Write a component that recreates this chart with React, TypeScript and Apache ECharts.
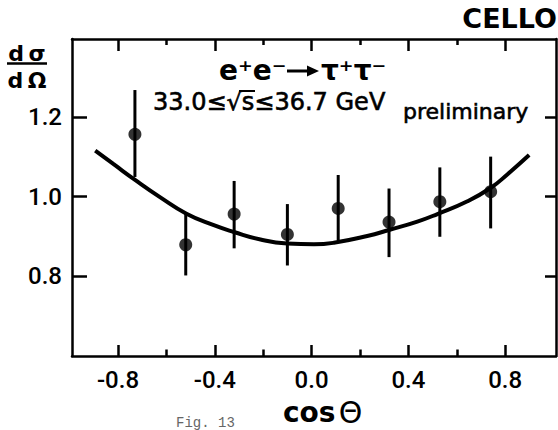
import React, { useEffect, useRef } from "react";
import * as echarts from "echarts";

// measured points
const cosTheta = [-0.73, -0.52, -0.32, -0.10, 0.11, 0.32, 0.53, 0.74];
const dSigma = [1.156, 0.879, 0.956, 0.905, 0.970, 0.936, 0.987, 1.012];
const errLow = [1.049, 0.802, 0.870, 0.827, 0.890, 0.848, 0.899, 0.920];
const errHigh = [1.267, 0.960, 1.039, 0.981, 1.054, 1.020, 1.073, 1.100];

// theoretical curve
const curveX = [-0.894, -0.818, -0.728, -0.625, -0.517, -0.404, -0.321, -0.211, -0.101, 0.01, 0.092, 0.23, 0.32, 0.437, 0.52, 0.644, 0.741, 0.81, 0.899];
const curveY = [1.115, 1.081, 1.041, 0.998, 0.957, 0.928, 0.911, 0.892, 0.882, 0.880, 0.884, 0.901, 0.916, 0.937, 0.956, 0.988, 1.022, 1.056, 1.104];

// ticks
const xMajorTicks = [-0.8, -0.4, 0.0, 0.4, 0.8];
const xMinorTicks = [-0.6, -0.2, 0.2, 0.6];
const yTicks = [0.8, 1.0, 1.2];

const X_MIN = -0.99;
const X_MAX = 1.01;
const Y_MIN = 0.6;
const Y_MAX = 1.395;

const FRAME = "#000";
const LBL_FONT = "Roboto";
const TXT_FONT = "DejaVu Sans";

function fmt(v: number) {
  const s = Math.abs(v).toFixed(1);
  return v < -1e-9 ? "-" + s : s;
}

function buildOption(): any {
  const lineStyle = { color: FRAME, width: 2.5 };
  const baseX = {
    type: "value",
    min: X_MIN,
    max: X_MAX,
    gridIndex: 0,
    splitLine: { show: false },
  };
  const baseY = {
    type: "value",
    min: Y_MIN,
    max: Y_MAX,
    gridIndex: 0,
    splitLine: { show: false },
  };
  return {
    animation: false,
    backgroundColor: "#fff",
    grid: { left: 72, top: 39, width: 484, height: 317, containLabel: false },
    xAxis: [
      {
        ...baseX,
        position: "bottom",
        axisLine: { show: true, onZero: false, lineStyle },
        axisTick: { show: true, inside: true, length: 11, customValues: xMajorTicks, lineStyle: { color: FRAME, width: 2.5 } },
        axisLabel: {
          show: true,
          customValues: xMajorTicks,
          formatter: (v: number) => fmt(v),
          fontFamily: LBL_FONT,
          fontWeight: 500,
          fontSize: 24,
          color: "#000",
          margin: 12,
        },
      },
      {
        ...baseX,
        position: "bottom",
        axisLine: { show: false, onZero: false },
        axisTick: { show: true, inside: true, length: 6.5, customValues: xMinorTicks, lineStyle: { color: FRAME, width: 2.5 } },
        axisLabel: { show: false },
      },
      {
        ...baseX,
        position: "top",
        axisLine: { show: true, onZero: false, lineStyle },
        axisTick: { show: true, inside: true, length: 12, customValues: xMajorTicks, lineStyle: { color: FRAME, width: 2.5 } },
        axisLabel: { show: false },
      },
      {
        ...baseX,
        position: "top",
        axisLine: { show: false, onZero: false },
        axisTick: { show: true, inside: true, length: 6, customValues: xMinorTicks, lineStyle: { color: FRAME, width: 2.5 } },
        axisLabel: { show: false },
      },
    ],
    yAxis: [
      {
        ...baseY,
        position: "left",
        axisLine: { show: true, onZero: false, lineStyle },
        axisTick: { show: true, inside: true, length: 15, customValues: yTicks, lineStyle: { color: FRAME, width: 2.5 } },
        axisLabel: {
          show: true,
          customValues: yTicks,
          formatter: (v: number) => fmt(v),
          fontFamily: LBL_FONT,
          fontWeight: 500,
          fontSize: 24,
          color: "#000",
          margin: 10,
        },
      },
      {
        ...baseY,
        position: "right",
        axisLine: { show: true, onZero: false, lineStyle },
        axisTick: { show: true, inside: true, length: 11, customValues: yTicks, lineStyle: { color: FRAME, width: 2.5 } },
        axisLabel: { show: false },
      },
    ],
    series: [
      {
        type: "line",
        xAxisIndex: 0,
        yAxisIndex: 0,
        data: curveX.map((x, i) => [x, curveY[i]]),
        smooth: 0.5,
        showSymbol: false,
        symbol: "none",
        lineStyle: { color: "#000", width: 4 },
        silent: true,
      },
      {
        type: "custom",
        xAxisIndex: 0,
        yAxisIndex: 0,
        data: cosTheta.map((x, i) => [x, errLow[i], errHigh[i]]),
        renderItem: (_p: any, api: any) => {
          const x = api.value(0);
          const lo = api.coord([x, api.value(1)]);
          const hi = api.coord([x, api.value(2)]);
          return {
            type: "line",
            shape: { x1: lo[0], y1: lo[1], x2: hi[0], y2: hi[1] },
            style: { stroke: "#000", lineWidth: 3 },
          };
        },
        silent: true,
      },
      {
        type: "scatter",
        xAxisIndex: 0,
        yAxisIndex: 0,
        data: cosTheta.map((x, i) => [x, dSigma[i]]),
        symbol: "circle",
        symbolSize: 13,
        itemStyle: { color: "#000" },
        silent: true,
      },
    ],
    graphic: [
      {
        type: "text",
        x: 557,
        y: 18.5,
        style: { text: "CELLO", fontFamily: TXT_FONT, fontWeight: "bold", fontSize: 27, fill: "#000", align: "right", verticalAlign: "middle" },
      },
      {
        type: "text",
        x: 27,
        y: 53,
        style: { text: "d\u2009σ", fontFamily: TXT_FONT, fontWeight: "bold", fontSize: 22, fill: "#000", align: "center", verticalAlign: "middle" },
      },
      {
        type: "line",
        shape: { x1: 7, y1: 63.5, x2: 47, y2: 63.5 },
        style: { stroke: "#000", lineWidth: 2.5 },
      },
      {
        type: "text",
        x: 27,
        y: 80,
        style: { text: "d\u2009Ω", fontFamily: TXT_FONT, fontWeight: "bold", fontSize: 22, fill: "#000", align: "center", verticalAlign: "middle" },
      },
      {
        type: "text",
        x: 219,
        y: 70,
        style: { text: "e⁺e⁻", fontFamily: TXT_FONT, fontWeight: "bold", fontSize: 28, fill: "#000", align: "left", verticalAlign: "middle" },
      },
      {
        type: "line",
        shape: { x1: 287, y1: 71, x2: 310, y2: 71 },
        style: { stroke: "#000", lineWidth: 3 },
      },
      {
        type: "polygon",
        shape: { points: [[307, 65.5], [319, 71], [307, 76.5]] },
        style: { fill: "#000" },
      },
      {
        type: "text",
        x: 321,
        y: 70,
        style: { text: "τ⁺τ⁻", fontFamily: TXT_FONT, fontWeight: "bold", fontSize: 28, fill: "#000", align: "left", verticalAlign: "middle" },
      },
      {
        type: "text",
        x: 153,
        y: 102,
        style: { text: "33.0≤√s≤36.7 GeV", fontFamily: TXT_FONT, fontWeight: "normal", fontSize: 24, fill: "#000", align: "left", verticalAlign: "middle", stroke: "#000", lineWidth: 0.6 },
      },
      {
        type: "line",
        shape: { x1: 239, y1: 91, x2: 255, y2: 91 },
        style: { stroke: "#000", lineWidth: 2 },
      },
      {
        type: "text",
        x: 403,
        y: 111,
        style: { text: "preliminary", fontFamily: TXT_FONT, fontWeight: "normal", fontSize: 22, fill: "#000", align: "left", verticalAlign: "middle", stroke: "#000", lineWidth: 0.6 },
      },
      {
        type: "text",
        x: 283,
        y: 412,
        style: {
          text: "{c|cos} {t|Θ}",
          align: "left",
          verticalAlign: "middle",
          lineHeight: 28,
          rich: {
            c: { fontFamily: TXT_FONT, fontWeight: "bold", fontSize: 28, fill: "#000", color: "#000", lineHeight: 28 },
            t: { fontFamily: TXT_FONT, fontWeight: "normal", fontSize: 30, fill: "#000", color: "#000", lineHeight: 28 },
          },
        },
      },
      {
        type: "text",
        x: 176,
        y: 423,
        style: { text: "Fig. 13", fontFamily: "Liberation Mono", fontSize: 14, fill: "#666", align: "left", verticalAlign: "middle" },
      },
    ],
  };
}

export default function App() {
  const ref = useRef<HTMLDivElement>(null);
  useEffect(() => {
    if (!ref.current) return;
    const chart = echarts.init(ref.current, undefined, { renderer: "svg" });
    chart.setOption(buildOption());
    return () => chart.dispose();
  }, []);
  return (
    <div
      ref={ref}
      style={{ position: "absolute", left: 0, top: 0, width: 558, height: 430, background: "#fff" }}
    />
  );
}
